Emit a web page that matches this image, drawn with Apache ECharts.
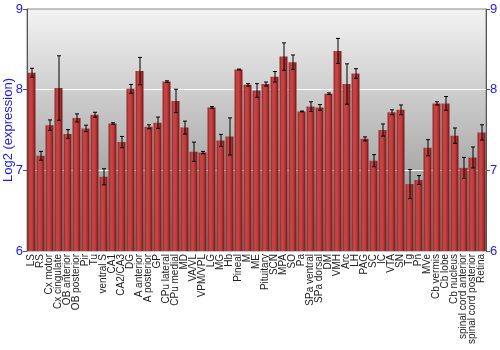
<!DOCTYPE html>
<html>
<head>
<meta charset="utf-8">
<script src="https://cdn.jsdelivr.net/npm/echarts@6/dist/echarts.min.js"></script>
<style>html,body{margin:0;padding:0;background:#fff}#c{width:500px;height:350px}</style>
</head>
<body>
<div id="c"></div>
<script>
var categories = ["LS","RS","Cx motor","Cx cingulate","OB anterior","OB posterior","Pir","Tu","ventral S","CA1","CA2/CA3","DG","A anterior","A posterior","GP","CPu lateral","CPu medial","MD","VA/VL","VPM/VPL","LG","MG","Hb","Pineal","M","ME","Pituitary","SCN","MPA","SO","Pa","SPa ventral","SPa dorsal","DM","VMH","Arc","LH","PAG","SC","IC","VTA","SN","Tg","Pn","MVe","Cb vermis","Cb lobe","Cb nucleus","spinal cord anterior","spinal cord posterior","Retina"];
var values = [8.21,7.18,7.56,8.02,7.45,7.65,7.52,7.69,6.92,7.58,7.35,8.01,8.23,7.54,7.59,8.10,7.86,7.53,7.23,7.22,7.78,7.37,7.42,8.25,8.06,7.99,8.07,8.16,8.41,8.34,7.73,7.79,7.78,7.95,8.48,8.07,8.20,7.39,7.12,7.50,7.72,7.75,6.83,6.88,7.28,7.83,7.83,7.43,7.03,7.16,7.47];
var errors = [0.055,0.055,0.065,0.40,0.055,0.05,0.04,0.03,0.10,0.01,0.07,0.055,0.17,0.025,0.07,0.01,0.145,0.08,0.12,0.015,0.01,0.075,0.23,0.005,0.015,0.085,0.025,0.065,0.17,0.09,0.005,0.06,0.035,0.01,0.155,0.25,0.06,0.025,0.075,0.075,0.03,0.06,0.18,0.055,0.10,0.02,0.085,0.095,0.13,0.13,0.095];
var yTicks = [6,7,8,9];

var errData = values.map(function(v,i){return [i, v - errors[i], v + errors[i]];});
var chart = echarts.init(document.getElementById('c'), null, {renderer:'canvas'});
var blue = '#1a1aff';
var yAxisCommon = {
  type:'value', min: yTicks[0], max: yTicks[yTicks.length-1], interval:1,
  axisLine:{show:true, lineStyle:{color:'#555'}},
  axisTick:{show:true, length:4, lineStyle:{color:'#555'}},
  axisLabel:{color:blue, fontSize:13, fontFamily:'Liberation Sans, Arial, sans-serif', margin:4},
  splitLine:{show:false}
};
chart.setOption({
  animation:false,
  grid:{left:27, right:14, top:9, bottom:99, show:true, containLabel:false, outerBoundsMode:'none',
    borderColor:'#888', borderWidth:1,
    backgroundColor:{type:'linear',x:0,y:0,x2:0,y2:1,colorStops:[{offset:0,color:'#f3f3f3'},{offset:1,color:'#868686'}]}},
  xAxis:{type:'category', data:categories,
    axisLine:{show:false}, axisTick:{show:false},
    axisLabel:{interval:0, rotate:90, fontSize:10, color:'#222', margin:3, fontFamily:'Liberation Sans, Arial, sans-serif'}},
  yAxis:[
    Object.assign({}, yAxisCommon, {position:'left', name:'Log2 (expression)', nameLocation:'middle', nameGap:12, nameMoveOverlap:false,
      nameTextStyle:{color:blue, fontSize:13, fontFamily:'Liberation Sans, Arial, sans-serif'},
      splitLine:{show:true, lineStyle:{color:['rgba(0,0,0,0)','#ffffff','#ffffff','rgba(0,0,0,0)'], width:1}}}),
    Object.assign({}, yAxisCommon, {position:'right'})
  ],
  series:[
    {type:'bar', data:values, barCategoryGap:'12%',
      itemStyle:{color:{type:'linear',x:0,y:0,x2:1,y2:0,colorStops:[
        {offset:0,color:'#8c2222'},{offset:0.3,color:'#c84848'},{offset:0.6,color:'#c03c3c'},{offset:1,color:'#741414'}]}}},
    {type:'custom', data:errData, z:5,
      renderItem:function(params, api){
        var x = api.value(0);
        var lo = api.coord([x, api.value(1)]);
        var hi = api.coord([x, api.value(2)]);
        var w = 2;
        var st = {stroke:'#000', lineWidth:1};
        return {type:'group', children:[
          {type:'line', shape:{x1:lo[0]+0.5,y1:lo[1],x2:hi[0]+0.5,y2:hi[1]}, style:st},
          {type:'line', shape:{x1:lo[0]-w+0.5,y1:lo[1],x2:lo[0]+w+0.5,y2:lo[1]}, style:st},
          {type:'line', shape:{x1:hi[0]-w+0.5,y1:hi[1],x2:hi[0]+w+0.5,y2:hi[1]}, style:st}
        ]};
      }}
  ]
});
</script>
</body>
</html>
